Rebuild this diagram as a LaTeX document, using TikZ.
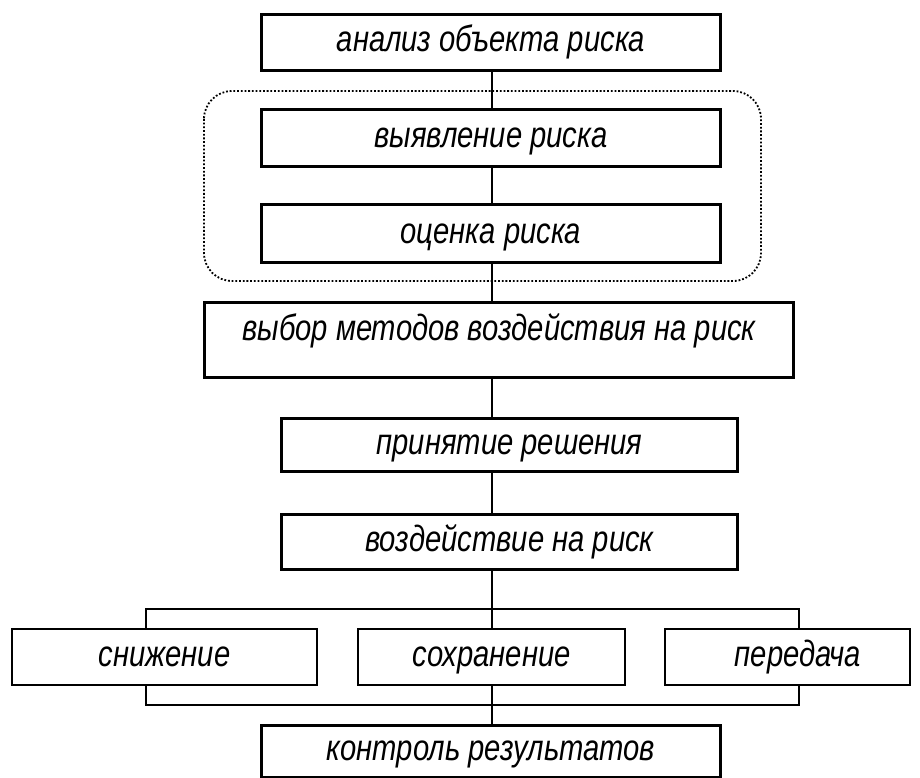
\documentclass[tikz,border=0pt]{standalone}
\usepackage{fontspec}
\usepackage{graphicx}
\setmainfont{Liberation Sans}
% narrow, tall italic lettering used for all labels
\newcommand{\narrowtxt}[1]{\scalebox{0.8}[1]{#1}}
\begin{document}
\begin{tikzpicture}[x=1pt, y=-1pt,
  every node/.style={font=\fontsize{36.5}{42}\selectfont\itshape, inner sep=0pt,
                     text height=19pt, text depth=0pt},
  mainbox/.style={draw, line width=3pt, rectangle},
  optbox/.style={draw, line width=1.6pt, rectangle},
  link/.style={line width=1.4pt},
  groupframe/.style={line width=1.8pt, dash pattern=on 1.8pt off 1.9pt, rounded corners=28pt}]
  \useasboundingbox (0,0) rectangle (920,778);

  % spine and bracket guide coordinates
  \coordinate (spine) at (492,0);
  \coordinate (bl) at (146,609);
  \coordinate (bt) at (492,609);
  \coordinate (br) at (799,609);
  \coordinate (bb) at (492,705);

  % dotted group around identification and assessment
  \draw[groupframe] (204,91) rectangle (761,281);

  % main chain
  \node[mainbox, minimum width=459pt, minimum height=56pt] (b1) at (491,42.5) {\narrowtxt{анализ объекта риска}};
  \node[mainbox, minimum width=459pt, minimum height=57pt] (b2) at (491,138) {\narrowtxt{выявление риска}};
  \node[mainbox, minimum width=459pt, minimum height=58pt] (b3) at (491,233.5) {\narrowtxt{оценка риска}};
  \node[mainbox, minimum width=589pt, minimum height=75pt] (b4) at (499,340) {};
  \node (b4t) at (499,331) {\narrowtxt{выбор методов воздействия на риск}};
  \node[mainbox, minimum width=456pt, minimum height=53pt] (b5) at (509.5,445) {\narrowtxt{принятие решения}};
  \node[mainbox, minimum width=456pt, minimum height=55pt] (b6) at (509.5,542) {\narrowtxt{воздействие на риск}};

  % methods of influence
  \node[optbox, minimum width=305pt, minimum height=56pt] (o1) at (164.5,657) {\narrowtxt{снижение}};
  \node[optbox, minimum width=267pt, minimum height=56pt] (o2) at (491.5,657) {\narrowtxt{сохранение}};
  \node[optbox, minimum width=245pt, minimum height=56pt] (o3) at (787.5,657) {};
  \node (o3t) at (798,657) {\narrowtxt{передача}};

  % control of results
  \node[mainbox, minimum width=459pt, minimum height=52pt] (b7) at (491,751) {\narrowtxt{контроль результатов}};

  % connectors along the spine
  \draw[link] (b1.south -| spine) -- (b2.north -| spine);
  \draw[link] (b2.south -| spine) -- (b3.north -| spine);
  \draw[link] (b3.south -| spine) -- (b4.north -| spine);
  \draw[link] (b4.south -| spine) -- (b5.north -| spine);
  \draw[link] (b5.south -| spine) -- (b6.north -| spine);
  \draw[link] (b6.south -| spine) -- (o2.north -| spine);
  \draw[link] (o2.south -| spine) -- (b7.north -| spine);

  % upper and lower brackets joining the three methods
  \draw[link] (bl |- o1.north) -- (bl) -- (br) -- (br |- o3.north);
  \draw[link] (bl |- o1.south) -- (bl |- bb) -- (br |- bb) -- (br |- o3.south);
\end{tikzpicture}
\end{document}
